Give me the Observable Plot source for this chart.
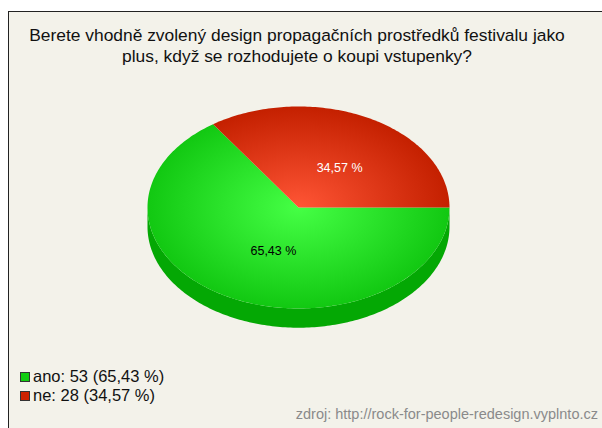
<!DOCTYPE html>
<html>
<head>
<meta charset="utf-8">
<script src="https://cdn.jsdelivr.net/npm/d3@7"></script>
<script src="https://cdn.jsdelivr.net/npm/@observablehq/plot@0.6"></script>
<style>
  html, body { margin: 0; padding: 0; background: #ffffff; width: 602px; height: 428px; overflow: hidden; font-family: "Liberation Sans", Arial, sans-serif; }
  #box { position: absolute; left: 8px; top: 11px; width: 640px; height: 460px; border: 1px solid #222; background: #f3f2ea; }
  #title { position: absolute; left: 0; top: 25px; width: 594px; text-align: center; font-size: 17.4px; line-height: 21px; color: #111; }
  #legend { position: absolute; left: 20px; top: 367px; font-size: 16.5px; line-height: 19px; color: #111; }
  #legend .row { display: flex; align-items: center; height: 19px; }
  #legend .sw { width: 8px; height: 8px; border: 1px solid #333; margin-right: 3px; }
  #footer { position: absolute; right: 4px; top: 406px; font-size: 14.5px; color: #8a8a8a; }
  #chart { position: absolute; left: 0; top: 0; }
</style>
</head>
<body>
<div id="box"></div>
<div id="title"></div>
<div id="chart"></div>
<div id="legend"></div>
<div id="footer"></div>
<script>
const titleLines = ["Berete vhodně zvolený design propagačních prostředků festivalu jako", "plus, když se rozhodujete o koupi vstupenky?"];
const categories = ["ano", "ne"];
const counts = [53, 28];
const percentLabels = ["65,43 %", "34,57 %"];
const topColors = [["#45ff45", "#12c812"], ["#ff5535", "#c42000"]];
const swatchColors = ["#11cc11", "#cc2200"];
const labelColors = ["#000000", "#ffffff"];
const sideColor = "#04a804";
const footerText = "zdroj: http://rock-for-people-redesign.vyplnto.cz";

// title
document.getElementById("title").innerHTML = titleLines.join("<br>");
document.getElementById("footer").textContent = footerText;

// pie geometry (unit ellipse, y up)
const total = d3.sum(counts);
const depth = 0.19; // side thickness in units of vertical radius
const slicePoints = [];
const labels = [];
let acc = 0;
categories.forEach((c, i) => {
  const t0 = acc / total * 2 * Math.PI;
  acc += counts[i];
  const t1 = acc / total * 2 * Math.PI;
  const pts = [{x: 0, y: 0, id: c}];
  const n = Math.max(2, Math.ceil((t1 - t0) / (Math.PI / 180)));
  for (let k = 0; k <= n; k++) {
    const t = t0 + (t1 - t0) * k / n;
    pts.push({x: Math.cos(-t), y: Math.sin(-t), id: c});
  }
  pts.push({x: 0, y: 0, id: c});
  slicePoints.push(pts);
  const tm = (t0 + t1) / 2;
  labels.push({x: 0.47 * Math.cos(-tm), y: 0.46 * Math.sin(-tm), text: percentLabels[i], color: labelColors[i]});
});

// visible side wall (lower half)
const side = [];
for (let k = 0; k <= 180; k++) {
  const a = Math.PI + Math.PI * k / 180;
  side.push({x: Math.cos(a), y: Math.sin(a)});
}
for (let k = 180; k >= 0; k--) {
  const a = Math.PI + Math.PI * k / 180;
  side.push({x: Math.cos(a), y: Math.sin(a) - depth});
}

const marks = [
  Plot.line(side, {x: "x", y: "y", fill: sideColor, stroke: "none", curve: "linear"}),
  ...slicePoints.map((pts, i) => Plot.line(pts, {x: "x", y: "y", fill: `url(#grad${i})`, stroke: "none", curve: "linear"})),
  Plot.text(labels, {x: "x", y: "y", text: "text", fill: "color", dx: 8, dy: 2, fontSize: 12.5, fontFamily: "Liberation Sans, Arial, sans-serif"})
];

const svg = Plot.plot({
  width: 602,
  height: 428,
  margin: 0,
  style: {background: "transparent", overflow: "visible"},
  x: {domain: [-1, 1], range: [147, 449], axis: null},
  y: {domain: [-1, 1], range: [308, 106], axis: null},
  color: {type: "identity"},
  marks
});

// gradients for the top face
const xs = svg.scale("x"), ys = svg.scale("y");
const cx = xs.apply(0), cy = ys.apply(0);
const rx = xs.apply(1) - cx, ry = cy - ys.apply(1);
const defs = d3.select(svg).insert("defs", ":first-child");
topColors.forEach((cols, i) => {
  const g = defs.append("radialGradient")
    .attr("id", `grad${i}`)
    .attr("gradientUnits", "userSpaceOnUse")
    .attr("cx", 0).attr("cy", 0).attr("r", rx)
    .attr("gradientTransform", `translate(${cx},${cy}) scale(1,${ry / rx})`);
  g.append("stop").attr("offset", "0%").attr("stop-color", cols[0]);
  g.append("stop").attr("offset", "100%").attr("stop-color", cols[1]);
});
document.getElementById("chart").appendChild(svg);

// legend
const legend = d3.select("#legend");
categories.forEach((c, i) => {
  const row = legend.append("div").attr("class", "row");
  row.append("div").attr("class", "sw").style("background", swatchColors[i]);
  row.append("span").text(`${c}: ${counts[i]} (${percentLabels[i]})`);
});
</script>
</body>
</html>
